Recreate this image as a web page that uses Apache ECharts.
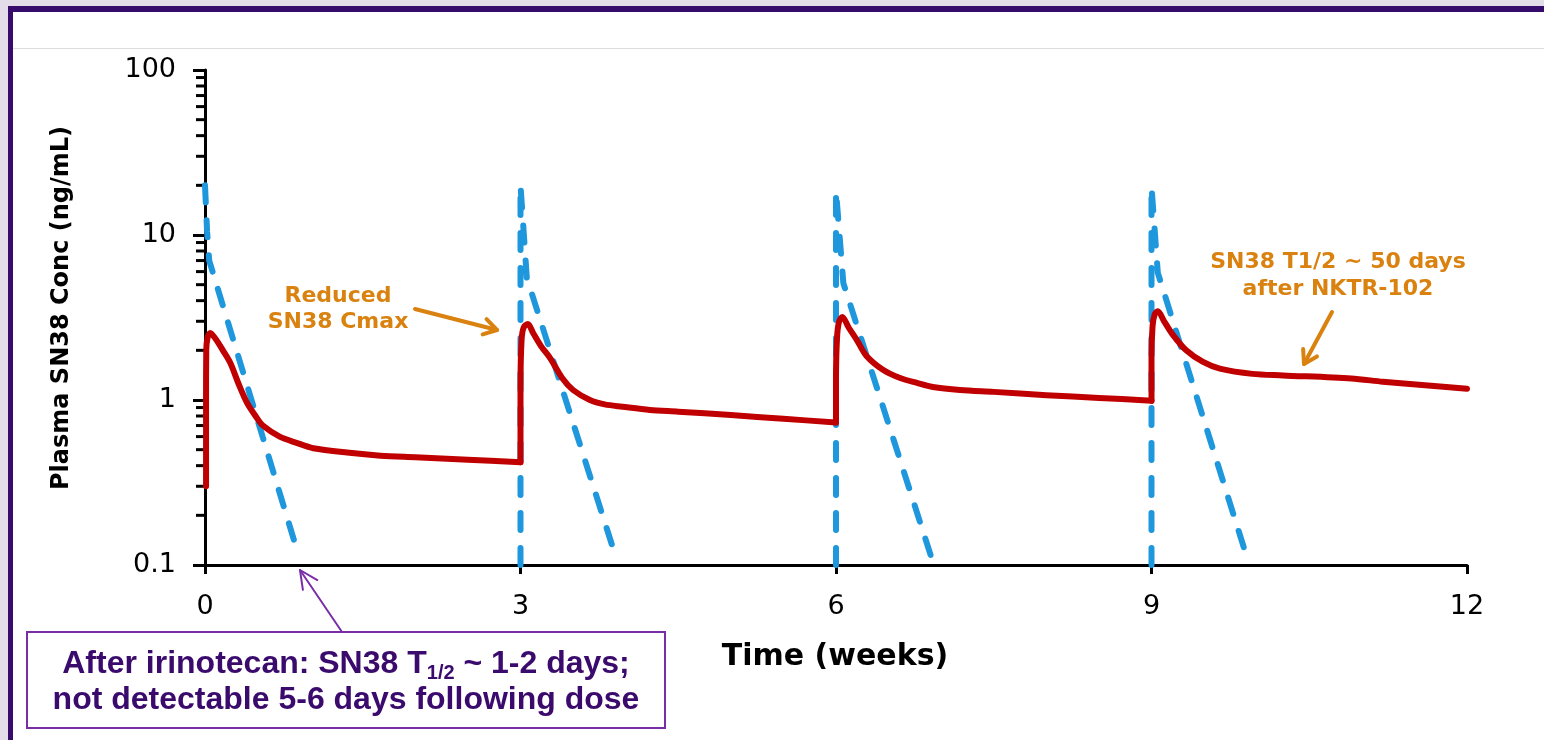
<!DOCTYPE html>
<html><head><meta charset="utf-8">
<script src="https://cdn.jsdelivr.net/npm/echarts@6/dist/echarts.min.js"></script>
<style>
html,body{margin:0;padding:0;width:1544px;height:740px;overflow:hidden;background:#e2dde9;}
#frame{position:absolute;left:8px;top:6px;width:1600px;height:800px;background:#fff;border-left:5px solid #370b6c;border-top:6px solid #370b6c;}
#rule{position:absolute;left:13px;top:48px;width:1540px;height:1px;background:#dcdcdc;}
#chart{position:absolute;left:0;top:0;width:1544px;height:740px;}
</style></head>
<body>
<div id="frame"></div><div id="rule"></div>
<div id="chart"></div>
<script>
// ---- data ----
const xTicks = [0, 3, 6, 9, 12];
const yMajorTicks = [0.1, 1, 10, 100];
const yMinorTicks = [0.2,0.3,0.4,0.5,0.6,0.7,0.8,0.9, 2,3,4,5,6,7,8,9, 20,30,40,50,60,70,80,90];

// NKTR-102 (solid red), one array per dosing cycle: [week, ng/mL]
const nktrCycle1 = [[0.01,0.30],[0.01,1.0],[0.012,2.0],[0.025,2.4],[0.05,2.55],[0.1,2.35],[0.17,2.0],[0.24,1.68],[0.32,1.25],[0.4,0.96],[0.48,0.8],[0.55,0.70],[0.71,0.60],[0.87,0.55],[1.03,0.51],[1.35,0.48],[1.67,0.46],[2.0,0.45],[2.5,0.435],[3.0,0.42]];
const nktrCycle2 = [[3.0,0.42],[3.0,1.2],[3.01,2.3],[3.03,2.75],[3.07,2.89],[3.12,2.55],[3.2,2.1],[3.28,1.8],[3.4,1.35],[3.5,1.15],[3.66,1.0],[3.8,0.94],[3.97,0.91],[4.23,0.87],[4.5,0.85],[5.0,0.81],[5.5,0.77],[6.0,0.73]];
const nktrCycle3 = [[6.0,0.73],[6.0,1.3],[6.01,2.4],[6.03,3.0],[6.06,3.18],[6.12,2.75],[6.2,2.3],[6.29,1.85],[6.45,1.52],[6.61,1.36],[6.77,1.27],[6.92,1.2],[7.18,1.15],[7.5,1.12],[8.0,1.07],[8.5,1.03],[9.0,0.99]];
const nktrCycle4 = [[9.0,0.99],[9.0,1.8],[9.01,2.8],[9.03,3.3],[9.06,3.45],[9.12,3.0],[9.2,2.5],[9.33,2.0],[9.49,1.7],[9.65,1.55],[9.96,1.44],[10.25,1.41],[10.9,1.35],[11.2,1.29],[11.6,1.23],[12.0,1.17]];

// Irinotecan (dashed blue), one array per dosing cycle
const irinoCycle1 = [[0,20],[0.02,10.5],[0.04,7],[0.88,0.12]];
const irinoCycle2 = [[3,0.1],[3,20],[3.06,5.5],[3.91,0.11]];
const irinoCycle3 = [[6,0.1],[6,18.5],[6.07,5.1],[6.93,0.1]];
const irinoCycle4 = [[9,0.1],[9,19.6],[9.06,5.9],[9.9,0.115]];

const chart = echarts.init(document.getElementById('chart'), null, {renderer:'canvas'});
const blueStyle = {color:'#1f97dd', width:6, type:[17,18], cap:'round', join:'round'};
const redStyle = {color:'#c00000', width:6, cap:'round', join:'round'};
function irinoSeries(d){
  return {type:'line', data:d, symbol:'none', showSymbol:false, lineStyle:blueStyle, silent:true, z:3, clip:false};
}
function nktrSeries(d){
  return {type:'line', data:d, symbol:'none', showSymbol:false, lineStyle:redStyle, silent:true, z:4, clip:false, smooth:0.3};
}
const AXIS_FONT = '"DejaVu Sans", sans-serif';

chart.setOption({
  animation:false,
  backgroundColor:'transparent',
  grid:{left:205, right:77, top:70, bottom:175},
  xAxis:{type:'value', min:0, max:12, interval:3,
    axisLine:{show:true, lineStyle:{color:'#000', width:3}},
    axisTick:{show:true, length:9, lineStyle:{color:'#000', width:3}},
    splitLine:{show:false},
    axisLabel:{color:'#000', fontSize:27, fontFamily:AXIS_FONT, margin:28, customValues: xTicks}
  },
  yAxis:{type:'log', logBase:10, min:0.1, max:100,
    axisLine:{show:true, lineStyle:{color:'#000', width:3}},
    axisTick:{show:true, length:12, lineStyle:{color:'#000', width:3}},
    splitLine:{show:false},
    axisLabel:{color:'#000', fontSize:27, fontFamily:AXIS_FONT, margin:29,
      formatter:function(v){ const m = yMajorTicks.find(t=>Math.abs(t-v)<1e-9*Math.max(1,v)); return m===undefined? String(v): String(m); }}
  },
  series:[
    {type:'custom', silent:true, clip:false, z:1,
     data: yMinorTicks.map(v=>[0,v]),
     renderItem:function(params, api){
       const p = api.coord([0, api.value(1)]);
       return {type:'line', shape:{x1:p[0]-9, y1:p[1], x2:p[0], y2:p[1]}, style:{stroke:'#000', lineWidth:3}};
     }},
    irinoSeries(irinoCycle1),
    irinoSeries(irinoCycle2),
    irinoSeries(irinoCycle3),
    irinoSeries(irinoCycle4),
    nktrSeries(nktrCycle1),
    nktrSeries(nktrCycle2),
    nktrSeries(nktrCycle3),
    nktrSeries(nktrCycle4)
  ]
});

// ---- annotations ----
const ORANGE = '#d9820f';
const PURPLE_TXT = '#3a0b6c';
const PURPLE_LN = '#7a2ea6';
function arrow(x1,y1,x2,y2,color,w,head,ang){
  const dx=x2-x1, dy=y2-y1, L=Math.hypot(dx,dy), ux=dx/L, uy=dy/L;
  const a = ang||0.5;
  const hx1 = x2 - head*(ux*Math.cos(a) - uy*Math.sin(a));
  const hy1 = y2 - head*(uy*Math.cos(a) + ux*Math.sin(a));
  const hx2 = x2 - head*(ux*Math.cos(a) + uy*Math.sin(a));
  const hy2 = y2 - head*(uy*Math.cos(a) - ux*Math.sin(a));
  return [
    {type:'line', shape:{x1:x1,y1:y1,x2:x2,y2:y2}, style:{stroke:color, lineWidth:w, lineCap:'round'}, z:10},
    {type:'polyline', shape:{points:[[hx1,hy1],[x2,y2],[hx2,hy2]]}, style:{stroke:color, lineWidth:w, lineCap:'round', lineJoin:'round', fill:null}, z:10}
  ];
}
const mc = document.createElement('canvas').getContext('2d');
const BOX_FONT = '"Liberation Sans", Arial, sans-serif';
mc.font = 'bold 32px ' + BOX_FONT;
const p1 = 'After irinotecan: SN38 T', p3 = ' ~ 1-2 days;';
const w1 = mc.measureText(p1).width, w3 = mc.measureText(p3).width;
mc.font = 'bold 20px ' + BOX_FONT;
const w2 = mc.measureText('1/2').width;
const cx = 346, totalW = w1+w2+w3, x0 = cx - totalW/2;

const g = [
  {type:'text', x:62, y:308, rotation:Math.PI/2, z:10,
   style:{text:'Plasma SN38 Conc (ng/mL)', fontSize:24, fontWeight:'bold', fontFamily:'"DejaVu Sans", sans-serif', fill:'#000', align:'center', verticalAlign:'middle'}},
  {type:'text', x:835, y:657, z:10,
   style:{text:'Time (weeks)', fontSize:30, fontWeight:'bold', fontFamily:'"DejaVu Sans", sans-serif', fill:'#000', align:'center', verticalAlign:'middle'}},
  {type:'text', x:338, y:309, z:10,
   style:{text:'Reduced\nSN38 Cmax', fontSize:22, lineHeight:26, fontWeight:'bold', fontFamily:'"DejaVu Sans", sans-serif', fill:ORANGE, align:'center', verticalAlign:'middle'}},
  {type:'text', x:1338, y:276, z:10,
   style:{text:'SN38 T1/2 ~ 50 days\nafter NKTR-102', fontSize:22, lineHeight:27, fontWeight:'bold', fontFamily:'"DejaVu Sans", sans-serif', fill:ORANGE, align:'center', verticalAlign:'middle'}},
  ...arrow(415,309,497,330,ORANGE,4,15,0.55),
  ...arrow(1332,312,1304,364,ORANGE,4,15,0.55),
  ...arrow(342,632,300,570,PURPLE_LN,2,20,0.45),
  {type:'rect', shape:{x:27,y:632,width:638,height:96}, style:{fill:'#fff', stroke:PURPLE_LN, lineWidth:2}, z:9},
  {type:'text', x:x0, y:664, z:10, style:{text:p1, font:'bold 32px '+BOX_FONT, fill:PURPLE_TXT, align:'left', verticalAlign:'middle'}},
  {type:'text', x:x0+w1, y:673, z:10, style:{text:'1/2', font:'bold 20px '+BOX_FONT, fill:PURPLE_TXT, align:'left', verticalAlign:'middle'}},
  {type:'text', x:x0+w1+w2, y:664, z:10, style:{text:p3, font:'bold 32px '+BOX_FONT, fill:PURPLE_TXT, align:'left', verticalAlign:'middle'}},
  {type:'text', x:cx, y:700, z:10, style:{text:'not detectable 5-6 days following dose', font:'bold 32px '+BOX_FONT, fill:PURPLE_TXT, align:'center', verticalAlign:'middle'}}
];
chart.setOption({graphic:{elements:g}});
</script>
</body></html>
